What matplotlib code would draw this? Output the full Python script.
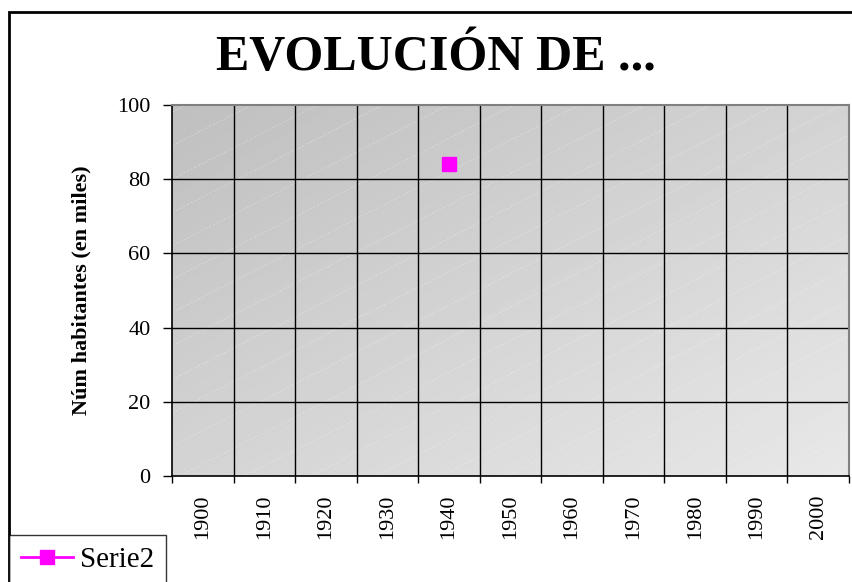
import matplotlib
matplotlib.use('Agg')

import matplotlib.pyplot as plt
import numpy as np
from matplotlib.patches import Rectangle

# datos
years = ['1900', '1910', '1920', '1930', '1940', '1950',
         '1960', '1970', '1980', '1990', '2000']
serie2 = [np.nan, np.nan, np.nan, np.nan, 84, np.nan,
          np.nan, np.nan, np.nan, np.nan, np.nan]
yticks = [0, 20, 40, 60, 80, 100]

plt.rcParams['font.family'] = ['Liberation Serif', 'DejaVu Serif']

W, H = 852, 582
fig = plt.figure(figsize=(W / 100, H / 100), dpi=100)
fig.patch.set_facecolor('white')

# borde exterior del grafico
fig.patches.append(Rectangle((9 / W, -0.1), 1.2, 1 - 12 / H + 0.1,
                             transform=fig.transFigure, fill=False,
                             edgecolor='black', linewidth=2, zorder=0))

ax = fig.add_axes([172 / W, 1 - 476 / H, (849 - 172) / W, (476 - 105) / H])

# fondo degradado: gris oscuro arriba-izq, claro abajo-der
gx, gy = np.meshgrid(np.linspace(0, 1, 200), np.linspace(0, 1, 200))
grad = 0.75 + 0.16 * (gx + gy) / 2
ax.imshow(grad, extent=[0, 1, 0, 1], transform=ax.transAxes, origin='upper',
          cmap='gray', vmin=0, vmax=1, aspect='auto', zorder=0,
          interpolation='bilinear')

# rayas diagonales tenues
for c in np.arange(-1.0, 1.0, 0.09):
    xs = np.array([0, 1])
    ys = c + xs * 0.93
    ax.plot(xs, ys, transform=ax.transAxes, color='white', lw=0.6,
            alpha=0.3, ls=(0, (3, 2)), zorder=1, clip_on=True)

x = np.arange(len(years))
ax.plot(x, serie2, color='#ff00ff', marker='s', markersize=10,
        linewidth=2, label='Serie2', zorder=5)

ax.set_xlim(-0.5, len(years) - 0.5)
ax.set_ylim(0, 100)

# rejilla
for b in np.arange(0.5, len(years) - 0.5):
    ax.axvline(b, color='black', lw=1, zorder=2)
for t in yticks[1:-1]:
    ax.axhline(t, color='black', lw=1, zorder=2)

ax.set_yticks(yticks)
ax.set_xticks(np.arange(-0.5, len(years)))
ax.set_xticklabels([])
ax.set_xticks(x, minor=True)
ax.set_xticklabels(years, minor=True, rotation=90)
ax.tick_params(axis='x', which='major', length=5, width=1, direction='out')
ax.tick_params(axis='x', which='minor', length=0, pad=13.5, labelsize=16)
ax.tick_params(axis='y', length=6.5, width=1, pad=9, labelsize=16)

for s in ['left', 'bottom']:
    ax.spines[s].set_color('black')
    ax.spines[s].set_linewidth(1.2)
for s in ['top', 'right']:
    ax.spines[s].set_color('#808080')
    ax.spines[s].set_linewidth(1.5)

ax.set_ylabel('Núm habitantes (en miles)', fontsize=16, fontweight='bold')
ax.yaxis.set_label_coords((91 - 172) / (849 - 172), 0.5)

fig.text(436 / W, 1 - 58 / H, 'EVOLUCIÓN DE ...', fontsize=36,
         fontweight='bold', ha='center', va='center')

leg = fig.legend(loc='upper left', bbox_to_anchor=(9 / W, 1 - 535 / H),
                 fontsize=21, frameon=True, fancybox=False, borderaxespad=0,
                 handlelength=1.8, handletextpad=0.25, borderpad=0.4)
leg.get_frame().set_edgecolor('black')
leg.get_frame().set_linewidth(1)

plt.savefig('out.png', dpi=100, facecolor='white')
